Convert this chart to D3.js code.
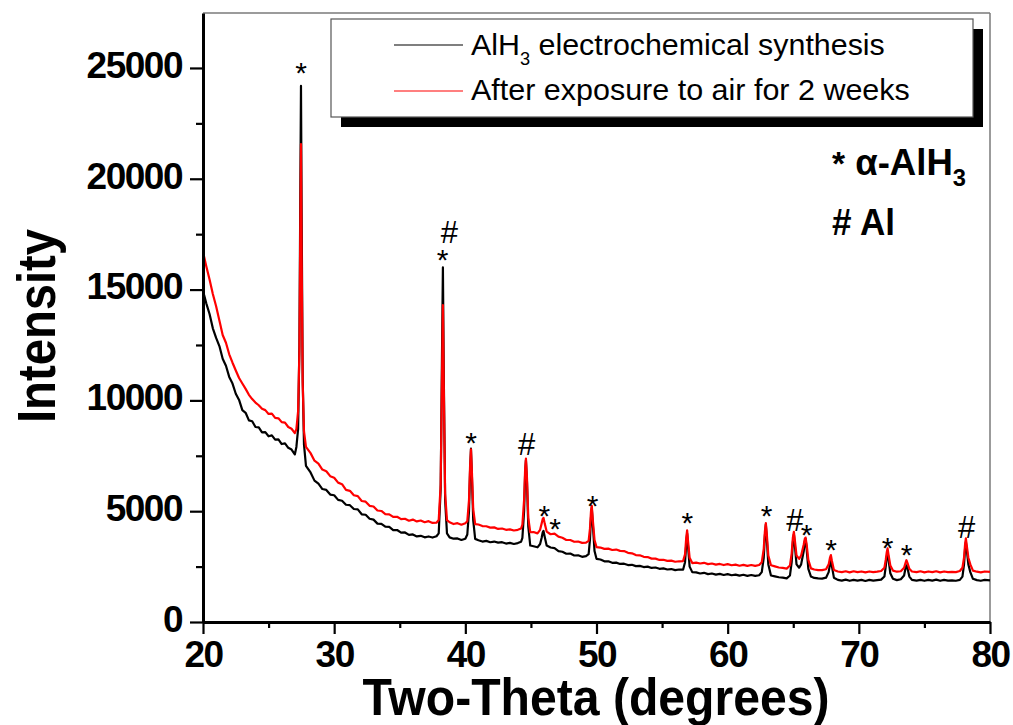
<!DOCTYPE html>
<html>
<head>
<meta charset="utf-8">
<script src="https://cdn.jsdelivr.net/npm/d3@7"></script>
<style>
  body { margin: 0; background: #fff; }
  text { font-family: "Liberation Sans", Arial, Helvetica, sans-serif; }
</style>
</head>
<body>
<script>
// XRD patterns (2-theta in degrees, intensity in counts)
var twoTheta = [
  20, 20.25, 20.5, 20.75, 21, 21.25, 21.5, 21.75, 22, 22.25, 22.5, 22.75, 23, 23.25, 23.5, 23.75, 24, 24.25, 24.5, 24.75, 25, 25.25, 25.5, 25.75, 26, 26.25, 26.5, 26.75, 27,
  27.12, 27.25, 27.35, 27.42, 27.47, 27.52, 27.6, 27.7, 27.85,
  28.2, 28.5, 28.8, 29.1, 29.4, 29.7, 30.0, 30.3, 30.6, 30.9, 31.2, 31.5, 31.8, 32.1, 32.4, 32.7, 33.0, 33.3, 33.6, 33.9, 34.2, 34.5, 34.8, 35.1, 35.4, 35.7, 36.0, 36.3, 36.6, 36.9, 37.2, 37.5, 37.8,
  37.97, 38.12, 38.22, 38.29, 38.36, 38.46, 38.6,
  38.8, 39.1, 39.4, 39.7, 40.0,
  40.15, 40.28, 40.36, 40.43, 40.5, 40.6, 40.75,
  41.0, 41.3, 41.6, 41.9, 42.2, 42.5, 42.8, 43.1, 43.4, 43.7, 44.0, 44.25,
  44.35, 44.48, 44.56, 44.62, 44.7, 44.8, 44.95,
  45.2, 45.5, 45.7, 45.82, 45.9, 45.96, 46.05, 46.2, 46.5, 46.8, 47.1,
  47.4, 47.7, 48.0, 48.3, 48.6, 48.9, 49.2, 49.4,
  49.5, 49.58, 49.64, 49.72, 49.85, 50.0,
  50.3, 50.6, 50.9, 51.2, 51.5, 51.8, 52.1, 52.4, 52.7, 53.0, 53.3, 53.6, 53.9, 54.2, 54.5, 54.8, 55.1, 55.4, 55.7, 56.0, 56.3, 56.6,
  56.75, 56.84, 56.91, 56.98, 57.1, 57.3,
  57.6, 57.9, 58.2, 58.5, 58.8, 59.1, 59.4, 59.7, 60.0, 60.3, 60.6, 60.9, 61.2, 61.5, 61.8, 62.1, 62.4, 62.6,
  62.75, 62.84, 62.91, 62.98, 63.1, 63.3, 63.6, 63.9, 64.2, 64.5, 64.75,
  64.88, 64.97, 65.05, 65.13, 65.25, 65.45, 65.6, 65.8, 65.88, 65.94, 66.02, 66.15, 66.35, 66.6, 66.9, 67.2, 67.5,
  67.7, 67.8, 67.87, 67.95, 68.1, 68.4, 68.7, 69.0, 69.3, 69.6, 69.9, 70.2, 70.5, 70.8, 71.1, 71.4, 71.7, 71.95,
  72.05, 72.13, 72.19, 72.26, 72.4, 72.6, 72.9, 73.2, 73.45,
  73.55, 73.63, 73.72, 73.85, 74.05, 74.4, 74.7, 75.0, 75.3, 75.6, 75.9, 76.2, 76.5, 76.8, 77.1, 77.4, 77.7, 77.9,
  78.02, 78.1, 78.16, 78.24, 78.35, 78.5, 78.7, 79.0, 79.3, 79.6, 80.0
];

// black curve: AlH3 electrochemical synthesis
var synthesis = [
  14950, 14380, 13900, 13250, 12820, 12450, 11880, 11560, 11060, 10760, 10300, 10020, 9560, 9440, 9100, 9060, 8800, 8780, 8560, 8570, 8380, 8420, 8230, 8240, 8030, 8060, 7860, 7780, 7560,
  7900, 8700, 12500, 19500, 24190, 18500, 11000, 8000, 7050,
  6750, 6380, 6240, 6000, 5960, 5750, 5720, 5510, 5470, 5290, 5270, 5100, 5080, 4860, 4840, 4660, 4620, 4440, 4430, 4300, 4290, 4150, 4150, 4030, 4040, 3930, 3950, 3860, 3890, 3820, 3860, 3810, 3870,
  4000, 6000, 12000, 16000, 11000, 5500, 4000,
  3820, 3760, 3770, 3700, 3760,
  3950, 5000, 6800, 7820, 6600, 4600, 3750,
  3690, 3630, 3660, 3600, 3630, 3580, 3600, 3540, 3570, 3520, 3560, 3620,
  3800, 5000, 6700, 7300, 6300, 4300, 3450,
  3420, 3370, 3520, 3800, 4050, 4110, 3850, 3450, 3360, 3330, 3200,
  3170, 3080, 3090, 3000, 3010, 2940, 2970, 3060,
  3700, 4700, 5160, 4400, 3200, 2850,
  2820, 2740, 2740, 2670, 2680, 2620, 2630, 2570, 2580, 2520, 2530, 2480, 2500, 2440, 2460, 2400, 2420, 2370, 2390, 2340, 2370, 2360,
  2700, 3500, 3990, 3400, 2500, 2250,
  2240, 2190, 2220, 2160, 2190, 2140, 2170, 2120, 2160, 2110, 2140, 2090, 2130, 2080, 2120, 2080, 2110, 2250,
  2900, 3900, 4400, 3800, 2600, 2100, 2060, 2020, 2000, 1970, 2100,
  2700, 3600, 3950, 3400, 2600, 2450, 2600, 3200, 3650, 3750, 3300, 2400, 2050, 1990, 1970, 1960, 2000,
  2250, 2600, 2790, 2500, 2000, 1900, 1870, 1910, 1860, 1900, 1870, 1900, 1850, 1900, 1870, 1890, 1910, 2050,
  2500, 2950, 3160, 2850, 2200, 1950, 1890, 1930, 2100,
  2400, 2560, 2400, 2050, 1900, 1870, 1900, 1860, 1900, 1870, 1910, 1860, 1900, 1870, 1880, 1860, 1900, 2050,
  2600, 3300, 3610, 3200, 2600, 2250, 1950, 1890, 1860, 1900, 1880
];

// red curve: after exposure to air for 2 weeks
var exposed = [
  16700, 16050, 15450, 14800, 14250, 13600, 12950, 12600, 12080, 11700, 11350, 11010, 10760, 10520, 10250, 10060, 9900, 9780, 9620, 9560, 9390, 9400, 9210, 9190, 9020, 9000, 8800, 8720, 8520,
  8700, 9500, 12200, 18000, 21560, 16500, 10800, 8600, 7900,
  7620, 7280, 7150, 6880, 6800, 6580, 6510, 6290, 6220, 5960, 5920, 5720, 5680, 5460, 5430, 5240, 5210, 5030, 5010, 4870, 4860, 4740, 4750, 4640, 4660, 4570, 4620, 4540, 4580, 4500, 4550, 4470, 4480,
  4600, 6200, 11000, 14300, 10500, 5800, 4600,
  4500, 4420, 4460, 4390, 4460,
  4550, 5500, 7000, 7790, 6800, 5100, 4420,
  4400, 4330, 4320, 4260, 4270, 4200, 4220, 4160, 4180, 4130, 4160, 4220,
  4400, 5500, 6900, 7370, 6500, 4700, 4050,
  4060, 4000, 4160, 4450, 4650, 4700, 4450, 4080, 3960, 3990, 3850,
  3800, 3700, 3700, 3620, 3630, 3570, 3580, 3660,
  4200, 5000, 5240, 4600, 3700, 3380,
  3360, 3300, 3310, 3250, 3270, 3210, 3200, 3120, 3100, 3020, 3010, 2940, 2930, 2860, 2860, 2800, 2810, 2760, 2770, 2720, 2740, 2750,
  3050, 3800, 4140, 3650, 2900, 2660,
  2680, 2640, 2670, 2610, 2640, 2590, 2620, 2570, 2610, 2560, 2590, 2540, 2580, 2530, 2570, 2530, 2570, 2700,
  3300, 4100, 4460, 4000, 3000, 2560, 2510, 2460, 2440, 2410, 2550,
  3100, 3800, 4070, 3650, 3000, 2850, 3000, 3500, 3750, 3810, 3500, 2800, 2420, 2370, 2340, 2340, 2380,
  2600, 2900, 3020, 2750, 2350, 2280, 2250, 2290, 2240, 2290, 2250, 2280, 2240, 2280, 2250, 2270, 2300, 2450,
  2800, 3150, 3320, 3050, 2550, 2320, 2270, 2290, 2450,
  2650, 2790, 2650, 2400, 2280, 2250, 2290, 2240, 2280, 2250, 2290, 2240, 2280, 2250, 2260, 2250, 2300, 2450,
  2900, 3500, 3770, 3400, 2900, 2600, 2320, 2270, 2240, 2280, 2260
];

// phase markers above the peaks (glyph centre position)
var markTheta  = [27.47, 38.27, 38.78, 40.43, 44.68, 46.02, 46.84, 49.7, 56.92, 62.97, 65.13, 66.02, 67.88, 72.2, 73.65, 78.22];
var markLevel  = [25090, 16650, 17580, 8380, 8050, 5080, 4520, 5570, 4780, 5080, 4600, 4220, 3550, 3660, 3320, 4290];
var markSymbol = ["*", "*", "#", "*", "#", "*", "*", "*", "*", "*", "#", "*", "*", "*", "*", "#"];

var xTicks = [20, 30, 40, 50, 60, 70, 80];
var xMinor = [25, 35, 45, 55, 65, 75];
var yTicks = [0, 5000, 10000, 15000, 20000, 25000];
var yMinor = [2500, 7500, 12500, 17500, 22500];

var legendNames = ["electrochemical synthesis", "After exposure to air for 2 weeks"];
var lineColors = ["#000000", "#ff0000"];

if (twoTheta.length != synthesis.length || twoTheta.length != exposed.length) {
  console.error("length mismatch", twoTheta.length, synthesis.length, exposed.length);
}

var fullwidth = 1013, fullheight = 725;
var svg = d3.select("body").append("svg")
  .attr("width", fullwidth)
  .attr("height", fullheight);

var font = '"Liberation Sans", Arial, Helvetica, sans-serif';

// scales
var xscale = d3.scaleLinear().domain([20, 80]).range([203, 990]);
var yscale = d3.scaleLinear().domain([0, 27480]).range([622, 13]);

// squeeze a text horizontally so it spans w pixels from x
function fitWidth(sel, x0, w) {
  var bw = sel.node().getBBox().width;
  sel.attr("transform", "translate(" + x0 + ",0) scale(" + (w / bw) + ",1) translate(" + (-x0) + ",0)");
}

// top and right frame
svg.append("line").attr("x1", 203).attr("x2", 990).attr("y1", 13).attr("y2", 13)
  .attr("stroke", "#7a7a7a").attr("stroke-width", 1.5);
svg.append("line").attr("x1", 990).attr("x2", 990).attr("y1", 13).attr("y2", 622)
  .attr("stroke", "#7a7a7a").attr("stroke-width", 1.5);

// curves
var line = d3.line()
  .x(function(d) { return xscale(d[0]); })
  .y(function(d) { return yscale(d[1]); });

var series = [d3.zip(twoTheta, synthesis), d3.zip(twoTheta, exposed)];
series.forEach(function(s, i) {
  svg.append("path")
    .datum(s)
    .attr("d", line)
    .attr("fill", "none")
    .attr("stroke", lineColors[i])
    .attr("stroke-width", 2.2)
    .attr("stroke-linejoin", "round");
});

// minor ticks
svg.append("g")
  .attr("transform", "translate(0,622)")
  .call(d3.axisBottom(xscale).tickValues(xMinor).tickSize(6).tickFormat(""))
  .call(function(g) { g.select(".domain").remove(); })
  .selectAll("line").attr("stroke-width", 2.2);
svg.append("g")
  .attr("transform", "translate(203,0)")
  .call(d3.axisLeft(yscale).tickValues(yMinor).tickSize(7).tickFormat(""))
  .call(function(g) { g.select(".domain").remove(); })
  .selectAll("line").attr("stroke-width", 2.2);

// x axis
var xg = svg.append("g")
  .attr("transform", "translate(0,622)")
  .call(d3.axisBottom(xscale).tickValues(xTicks).tickFormat(d3.format("d"))
    .tickSize(12).tickSizeOuter(0).tickPadding(7))
  .attr("font-family", font)
  .attr("font-size", 37)
  .attr("font-weight", "bold");
xg.select(".domain").attr("stroke-width", 3);
xg.selectAll(".tick line").attr("stroke-width", 2.2);
xg.selectAll("text").attr("letter-spacing", "-1.5px");

// y axis
var yg = svg.append("g")
  .attr("transform", "translate(203,0)")
  .call(d3.axisLeft(yscale).tickValues(yTicks).tickFormat(d3.format("d"))
    .tickSize(13).tickSizeOuter(0).tickPadding(8))
  .attr("font-family", font)
  .attr("font-size", 37)
  .attr("font-weight", "bold");
yg.select(".domain").attr("stroke-width", 3);
yg.selectAll(".tick line").attr("stroke-width", 2.2);
yg.selectAll("text").attr("dy", "0.25em").attr("letter-spacing", "-1.5px");

// axis titles
svg.append("text")
  .attr("x", 596)
  .attr("y", 715)
  .attr("text-anchor", "middle")
  .attr("font-size", 52)
  .attr("font-weight", "bold")
  .attr("textLength", 467)
  .attr("lengthAdjust", "spacingAndGlyphs")
  .text("Two-Theta (degrees)");

svg.append("text")
  .attr("transform", "translate(55,326) rotate(-90)")
  .attr("text-anchor", "middle")
  .attr("font-size", 54)
  .attr("font-weight", "bold")
  .attr("textLength", 194)
  .attr("lengthAdjust", "spacingAndGlyphs")
  .text("Intensity");

// peak markers
svg.selectAll(".mark")
  .data(d3.range(markTheta.length))
  .enter().append("text")
  .attr("class", "mark")
  .attr("x", function(i) { return xscale(markTheta[i]); })
  .attr("y", function(i) { return yscale(markLevel[i]) + (markSymbol[i] == "*" ? 17 : 11); })
  .attr("text-anchor", "middle")
  .attr("font-size", function(i) { return markSymbol[i] == "*" ? 30 : 31; })
  .text(function(i) { return markSymbol[i]; });

// legend with shadow
svg.append("rect").attr("x", 341).attr("y", 29).attr("width", 642).attr("height", 98).attr("fill", "#000");
svg.append("rect").attr("x", 331).attr("y", 19).attr("width", 642).attr("height", 98)
  .attr("fill", "#fff").attr("stroke", "#555").attr("stroke-width", 1.2);

var legendY = [45, 91];
legendY.forEach(function(ly, i) {
  svg.append("line").attr("x1", 394).attr("x2", 463).attr("y1", ly).attr("y2", ly)
    .attr("stroke", lineColors[i]).attr("stroke-width", 1.2);
});

var leg1 = svg.append("text").attr("x", 471).attr("y", 55.5).attr("font-size", 30);
leg1.append("tspan").text("AlH");
leg1.append("tspan").attr("font-size", 18).attr("dy", 10).text("3");
leg1.append("tspan").attr("dy", -10).text(" " + legendNames[0]);
fitWidth(leg1, 471, 414);

var leg2 = svg.append("text").attr("x", 471).attr("y", 100.5).attr("font-size", 30)
  .text(legendNames[1]);
fitWidth(leg2, 471, 439);

// phase key
var key1 = svg.append("text").attr("x", 832).attr("y", 175).attr("font-size", 37).attr("font-weight", "bold");
key1.append("tspan").attr("font-size", 34).text("*");
key1.append("tspan").text(" \u03b1-AlH");
key1.append("tspan").attr("font-size", 24).attr("dy", 11).text("3");
fitWidth(key1, 832, 134);

var key2 = svg.append("text").attr("x", 832).attr("y", 235).attr("font-size", 37).attr("font-weight", "bold")
  .text("# Al");
fitWidth(key2, 832, 63);
</script>
</body>
</html>
